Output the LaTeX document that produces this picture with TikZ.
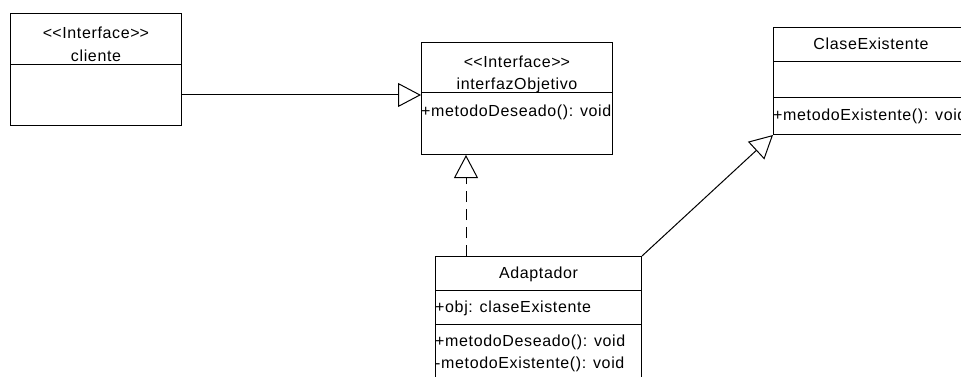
\documentclass[tikz,border=0pt]{standalone}
\usepackage{fontspec}
\setsansfont{Liberation Sans}[LetterSpace=4]
\usetikzlibrary{arrows.meta}
\newcommand{\estereo}[1]{<\kern0pt<#1>\kern0pt>}
\begin{document}
\begin{tikzpicture}[
  x=1pt, y=-1pt,
  clase/.style={rectangle, draw, line width=1pt, anchor=north west,
                inner sep=0pt},
  txt/.style={inner sep=0pt, text height=11.5pt, text depth=0pt,
              font=\sffamily\fontsize{16}{19}\selectfont},
  oper/.style={txt, anchor=west},
  sep/.style={line width=1pt},
  hereda/.style={-{Triangle[open, length=23pt, width=24pt]}, line width=1pt},
  impl/.style={hereda, dash pattern=on 11pt off 7pt}
]
  \useasboundingbox (0,0) rectangle (961,377);
  \clip (0,0) rectangle (961,377);

  % Clases
  \node[clase, minimum width=171pt, minimum height=112pt] (cli) at (10,13) {};
  \node[clase, minimum width=191pt, minimum height=112pt] (obj) at (421,42) {};
  \node[clase, minimum width=195pt, minimum height=107pt] (ext) at (773,27) {};
  \node[clase, minimum width=206pt, minimum height=140pt] (ada) at (435,256) {};

  % Compartimentos
  \foreach \n/\y in {cli/65, obj/93, ext/62, ext/98, ada/290, ada/324} {
    \draw[sep] (\n.west |- 0,\y) -- (\n.east |- 0,\y);
  }

  % Textos
  \node[txt] (cliSt) at (cli.north |- 0,33) {\estereo{Interface}};
  \node[txt] (cliNom) at (cli.north |- 0,56) {cliente};
  \node[txt] (objSt) at (obj.north |- 0,62) {\estereo{Interface}};
  \node[txt] (objNom) at (obj.north |- 0,84) {interfazObjetivo};
  \node[oper] (objOp) at (obj.west |- 0,111) {+metodoDeseado(): void};
  \node[txt] (extNom) at (ext.north |- 0,44) {ClaseExistente};
  \node[oper] (extOp) at (ext.west |- 0,115) {+metodoExistente(): void};
  \node[txt] (adaNom) at (ada.north |- 0,273) {Adaptador};
  \node[oper] (adaAt) at (ada.west |- 0,307) {+obj: claseExistente};
  \node[oper] (adaOp1) at (ada.west |- 0,341) {+metodoDeseado(): void};
  \node[oper] (adaOp2) at (ada.west |- 0,363) {-metodoExistente(): void};

  % Relaciones
  \draw[hereda] (cli.east |- 0,95) -- (obj.west |- 0,95);
  \draw[impl] (ada.north -| 466,0) -- (obj.south -| 466,0);
  \draw[hereda] (ada.north east) -- (ext.south west);
\end{tikzpicture}
\end{document}
